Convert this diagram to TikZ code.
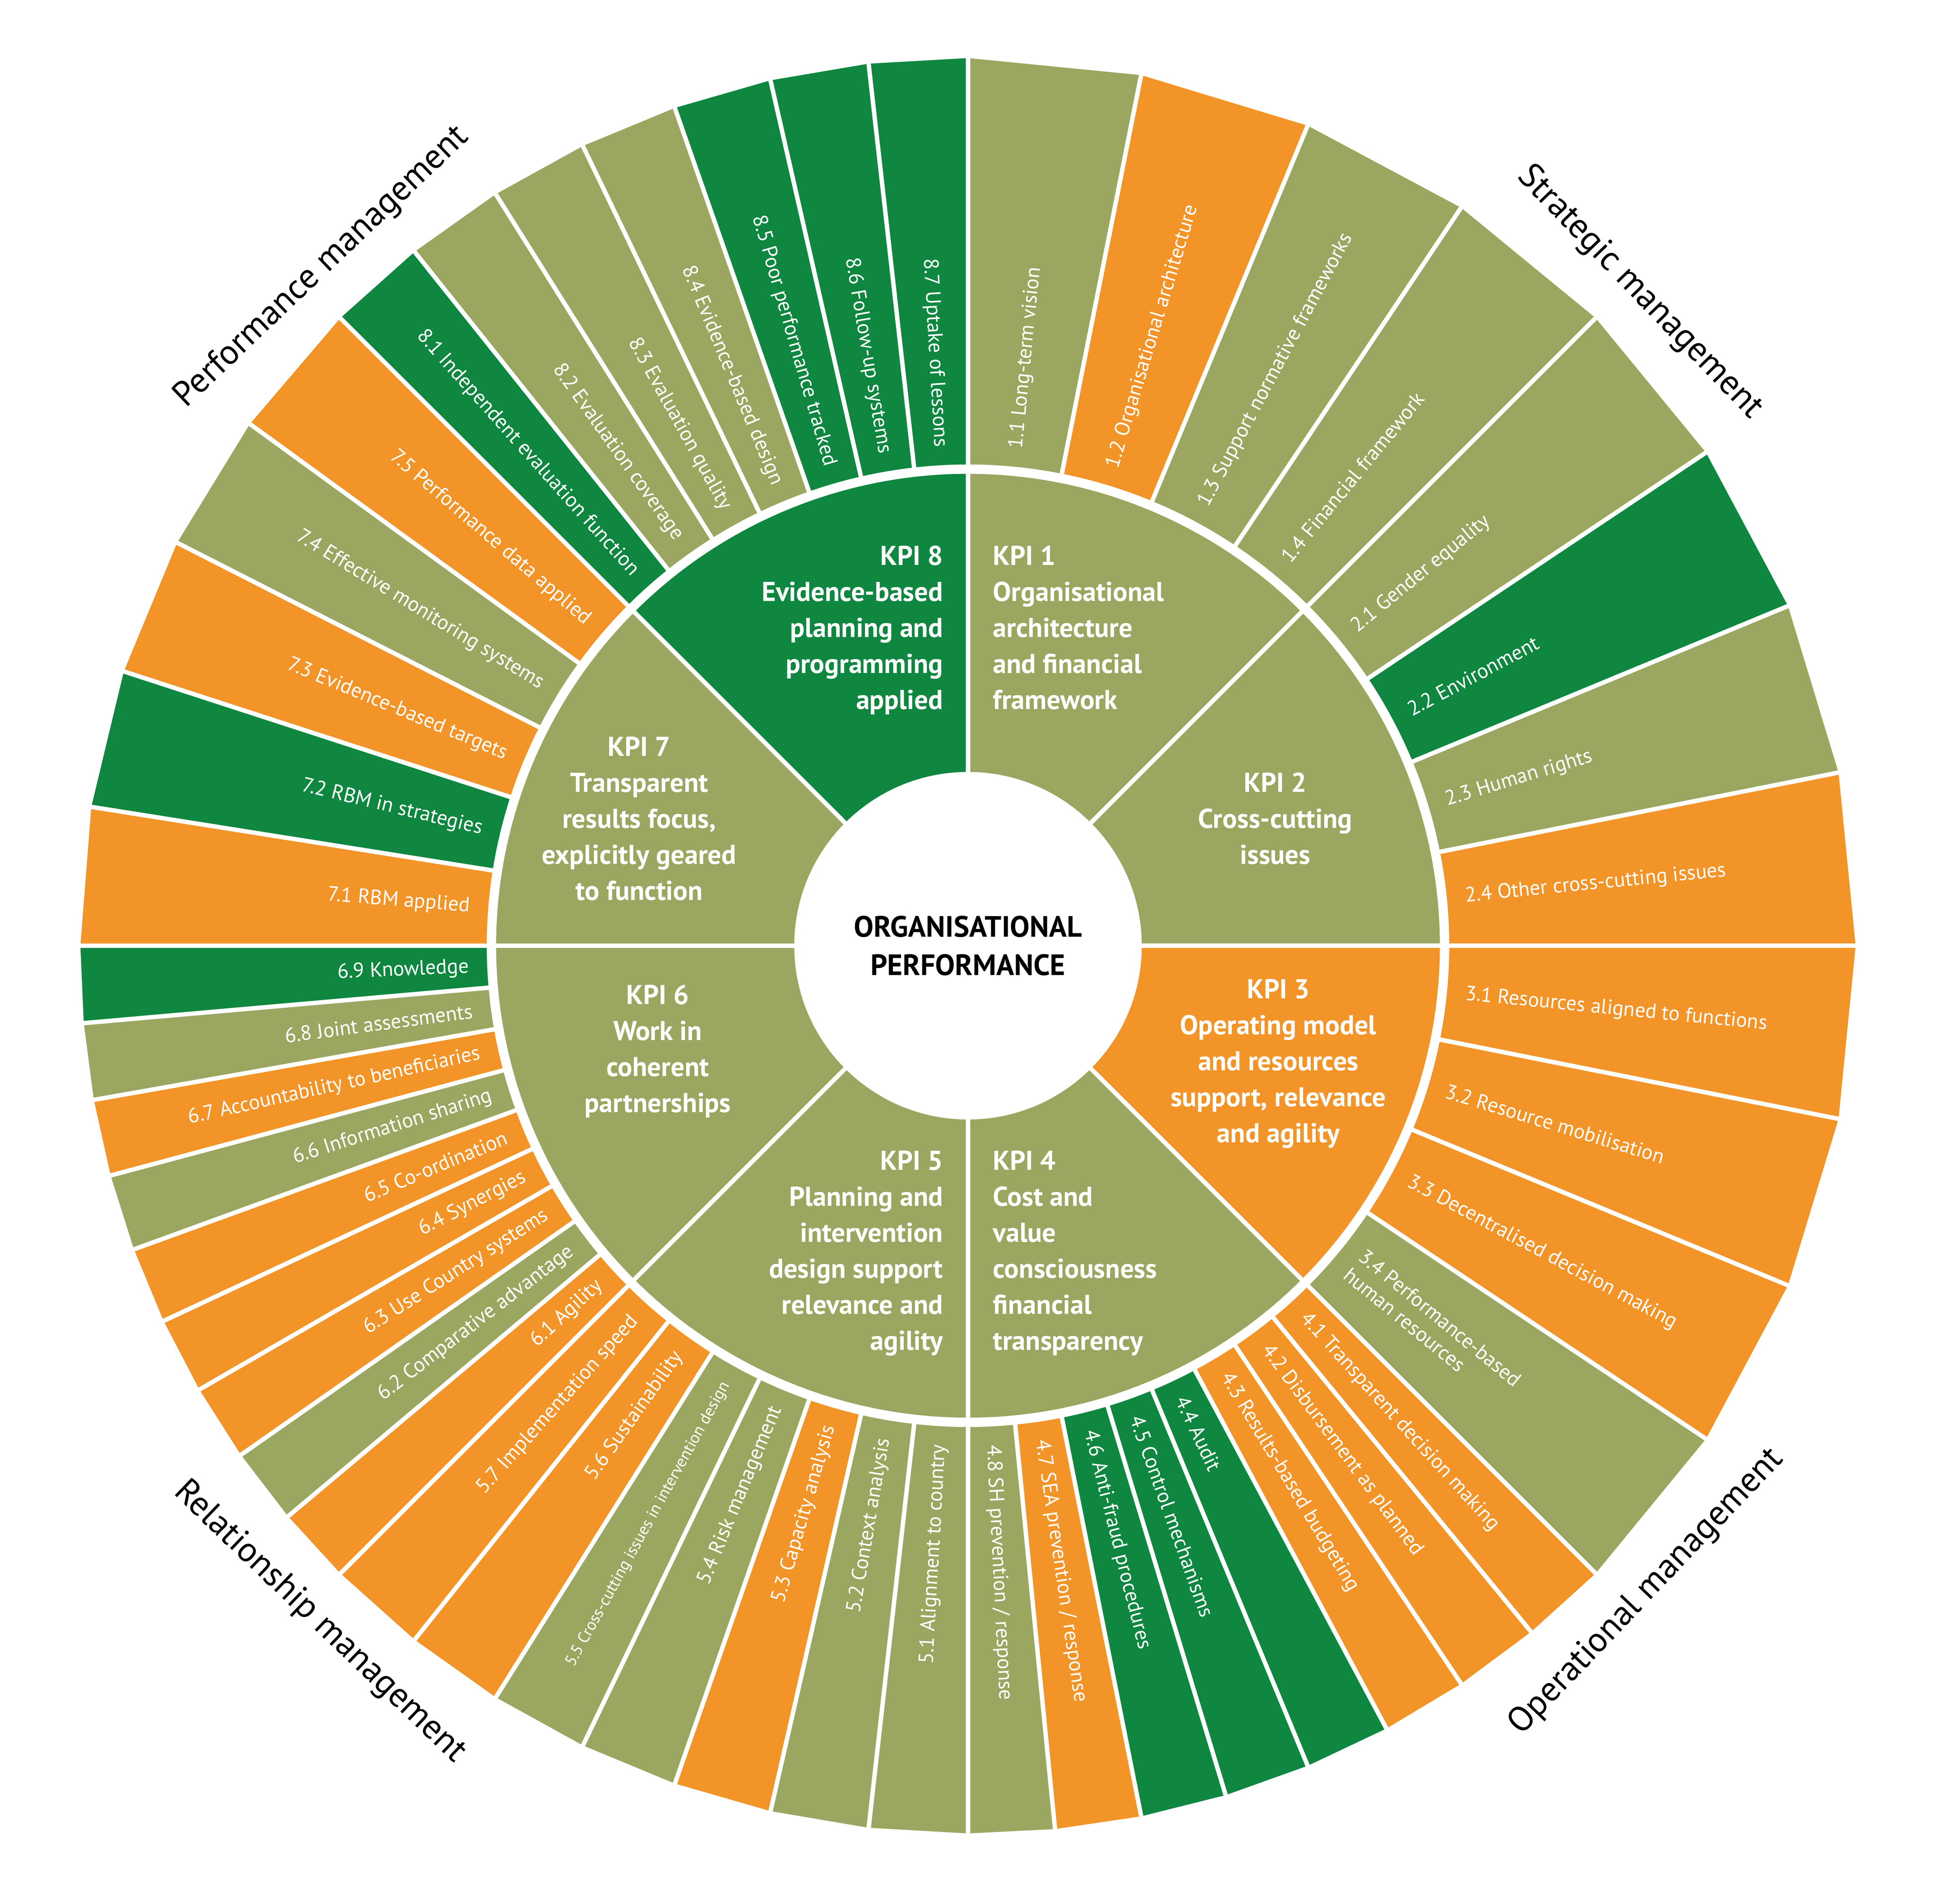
\documentclass[tikz,border=0pt]{standalone}
\usepackage{fontspec}
\setmainfont{PT Sans}
\begin{document}
\definecolor{ol}{RGB}{155,166,97}
\definecolor{or}{RGB}{242,148,40}
\definecolor{gr}{RGB}{15,135,64}
\def\rA{5.6cm}\def\rK{15.28cm}\def\rB{15.44cm}\def\rC{28.68cm}\def\rL{16.1cm}\def\rQ{30.2cm}
\newcommand\seg[5]{%
 \pgfmathsetmacro\segm{(#2+#3)/2}%
 \fill[#4,draw=white,line width=4pt,line join=miter] (#2:\rB) -- (#2:\rC) -- (#3:\rC) -- (#3:\rB) arc[start angle=#3,end angle=#2,radius=\rB] -- cycle;
 \ifdim\segm pt<-90pt
   \pgfmathsetmacro\segr{\segm+180}%
   \node[lab,anchor=east,rotate=\segr] (#1) at (\segm:\rL) {#5};
 \else
   \node[lab,anchor=west,rotate=\segm] (#1) at (\segm:\rL) {#5};
 \fi}
\newcommand\ring[4]{% kpi index, start angle, step, list
 \foreach \c/\t [count=\i] in {#4} {%
  \pgfmathsetmacro\sa{#2-(\i-1)*#3}\pgfmathsetmacro\sb{#2-\i*#3}%
  \seg{s#1\i}{\sa}{\sb}{\c}{\t}}}
\newcommand\kpi[3]{\fill[#3,draw=white,line width=4pt] (0,0) -- (#1:\rK) arc[start angle=#1,end angle=#2,radius=\rK] -- cycle;}
\begin{tikzpicture}[
 lab/.style={text=white,font=\fontsize{19}{22}\selectfont,inner sep=0pt,align=left},
 kt/.style={text=white,font=\fontsize{25}{33}\selectfont\bfseries,inner sep=0pt},
 qt/.style={font=\fontsize{32}{36}\selectfont,inner sep=0pt}]
\useasboundingbox (-31.2,-30.88) rectangle (31.2,30.48);
\kpi{90}{45}{ol}\kpi{45}{0}{ol}\kpi{0}{-45}{or}\kpi{-45}{-90}{ol}
\kpi{-90}{-135}{ol}\kpi{-135}{-180}{ol}\kpi{180}{135}{ol}\kpi{135}{90}{gr}
\ring{1}{90}{11.25}{ol/1.1 Long-term vision, or/1.2 Organisational architecture, ol/1.3 Support normative frameworks, ol/1.4 Financial framework}
\ring{2}{45}{11.25}{ol/2.1 Gender equality, gr/2.2 Environment, ol/2.3 Human rights, or/2.4 Other cross-cutting issues}
\ring{3}{0}{11.25}{or/3.1 Resources aligned to functions, or/3.2 Resource mobilisation, or/3.3 Decentralised decision making, ol/{3.4 Performance-based\\human resources}}
\ring{4}{-45}{5.625}{or/4.1 Transparent decision making, or/4.2 Disbursement as planned, or/4.3 Results-based budgeting, gr/4.4 Audit, gr/4.5 Control mechanisms, gr/4.6 Anti-fraud procedures, or/{4.7 SEA prevention / response}, ol/{4.8 SH prevention / response}}
\ring{5}{-90}{6.428571}{ol/5.1 Alignment to country, ol/5.2 Context analysis, or/5.3 Capacity analysis, ol/5.4 Risk management, ol/{\fontsize{15}{17}\selectfont 5.5 Cross-cutting issues in intervention design}, or/5.6 Sustainability, or/5.7 Implementation speed}
\ring{6}{-135}{5}{or/6.1 Agility, ol/6.2 Comparative advantage, or/6.3 Use Country systems, or/6.4 Synergies, or/6.5 Co-ordination, ol/6.6 Information sharing, or/6.7 Accountability to beneficiaries, ol/6.8 Joint assessments, gr/6.9 Knowledge}
\ring{7}{-180}{9}{or/7.1 RBM applied, gr/7.2 RBM in strategies, or/7.3 Evidence-based targets, ol/7.4 Effective monitoring systems, or/7.5 Performance data applied}
\ring{8}{-225}{6.428571}{gr/8.1 Independent evaluation function, ol/8.2 Evaluation coverage, ol/8.3 Evaluation quality, ol/8.4 Evidence-based design, gr/8.5 Poor performance tracked, gr/8.6 Follow-up systems, gr/8.7 Uptake of lessons}
\fill[white] (0,0) circle (\rA);
\node[font=\fontsize{27}{35}\selectfont\bfseries,align=center] (c) at (0,0) {ORGANISATIONAL\\PERFORMANCE};
\node[kt,align=left,anchor=north west] (k1) at (0.8,12.9) {KPI 1\\Organisational\\architecture\\and financial\\framework};
\node[kt,align=center] (k2) at (9.9,4.1) {KPI 2\\Cross-cutting\\issues};
\node[kt,align=center] (k3) at (10,-3.8) {KPI 3\\Operating model\\and resources\\support, relevance\\and agility};
\node[kt,align=left,anchor=north west] (k4) at (0.8,-6.6) {KPI 4\\Cost and\\value\\consciousness\\financial\\transparency};
\node[kt,align=right,anchor=north east] (k5) at (-0.8,-6.6) {KPI 5\\Planning and\\intervention\\design support\\relevance and\\agility};
\node[kt,align=center] (k6) at (-10,-3.4) {KPI 6\\Work in\\coherent\\partnerships};
\node[kt,align=center] (k7) at (-10.6,4.1) {KPI 7\\Transparent\\results focus,\\explicitly geared\\to function};
\node[kt,align=right,anchor=north east] (k8) at (-0.8,12.9) {KPI 8\\Evidence-based\\planning and\\programming\\applied};
\node[qt,rotate=-46] (q1) at (44.2:\rQ) {Strategic management};
\node[qt,rotate=46.4] (q2) at (-43.6:\rQ) {Operational management};
\node[qt,rotate=-43.8] (q3) at (-133.8:\rQ) {Relationship management};
\node[qt,rotate=43.6] (q4) at (133.6:\rQ) {Performance management};
\end{tikzpicture}
\end{document}
